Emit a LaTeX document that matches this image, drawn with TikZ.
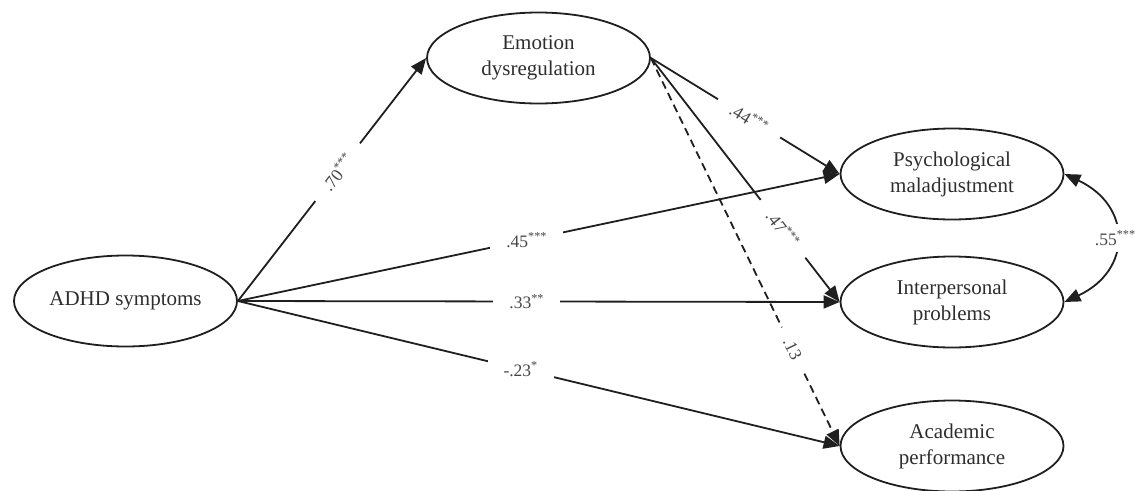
\documentclass[tikz,border=0pt]{standalone}
\usepackage{fontspec}
\setmainfont{Liberation Serif}
\usetikzlibrary{shapes.geometric,arrows.meta}
\begin{document}
\begin{tikzpicture}[x=1pt,y=-1pt,
  >={Triangle[length=16pt,width=13pt]},
  var/.style={ellipse,draw=black!88,line width=1.8pt,minimum width=223pt,minimum height=91pt,
    inner sep=0pt,align=center,font=\fontsize{21}{26}\selectfont,text=black!82},
  pathline/.style={draw=black!88,line width=1.8pt,->},
  coef/.style={fill=white,inner xsep=16pt,inner ysep=3pt,font=\fontsize{17.5}{20}\selectfont,text=black!72},
]
\useasboundingbox (0,0) rectangle (1137,490);
\node[var] (adhd)  at (125.5,301) {ADHD symptoms};
\node[var] (emo)   at (538.5,58)  {Emotion\\dysregulation};
\node[var] (psy)   at (952,174)   {Psychological\\maladjustment};
\node[var] (inter) at (952,302)   {Interpersonal\\problems};
\node[var] (acad)  at (952,446)   {Academic\\performance};

\draw[pathline] (adhd.east) -- node[coef,sloped,pos=0.53] {.70\textsuperscript{***}} (emo.west);
\draw[pathline] (adhd.east) -- node[coef,pos=0.48] {.45\textsuperscript{***}} (psy.west);
\draw[pathline] (adhd.east) -- node[coef,pos=0.48] {.33\textsuperscript{**}} (inter.west);
\draw[pathline] (adhd.east) -- node[coef,pos=0.47] {-.23\textsuperscript{*}} (acad.west);

\draw[pathline] (emo.east) -- node[coef,sloped,pos=0.52] {.44\textsuperscript{***}} (psy.west);
\draw[pathline] (emo.east) -- node[coef,sloped,pos=0.70] {.47\textsuperscript{***}} (inter.west);
\draw[pathline,dash pattern=on 8pt off 5pt] (emo.east) -- node[coef,sloped,pos=0.75,inner xsep=13pt] {.13} (acad.west);

\draw[draw=black!88,line width=1.8pt,<->] (psy.east) to[out=-25,in=25,looseness=1.5]
  node[coef,inner xsep=1pt,inner ysep=7pt] {.55\textsuperscript{***}} (inter.east);
\end{tikzpicture}
\end{document}
